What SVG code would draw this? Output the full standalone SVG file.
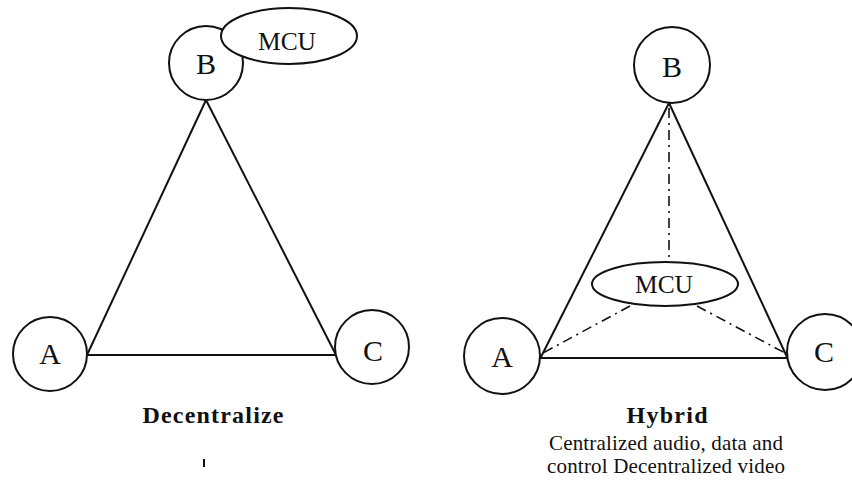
<svg xmlns="http://www.w3.org/2000/svg" width="852" height="481" viewBox="0 0 852 481">
  <style>
    .node { fill: #fff; stroke: #111; stroke-width: 2; }
    .link { stroke: #111; stroke-width: 2; fill: none; }
    .dash { stroke: #111; stroke-width: 1.6; fill: none; stroke-dasharray: 10 5 2 5; }
    .lbl { font-family: "Liberation Serif", "Times New Roman", serif; fill: #111; text-anchor: middle; }
    .letter { font-size: 30px; }
    .mcu { font-size: 26px; }
    .title { font-size: 24px; font-weight: bold; }
    .note { font-size: 21px; }
  </style>

  <!-- Decentralized topology -->
  <g id="connectors-left">
    <line class="link" x1="206" y1="100" x2="87" y2="355"/>
    <line class="link" x1="206" y1="100" x2="336" y2="355"/>
    <line class="link" x1="87" y1="355" x2="336" y2="355"/>
  </g>
  <g id="left-B">
    <circle class="node" cx="206" cy="63" r="37"/>
    <text class="lbl letter" x="206" y="74">B</text>
  </g>
  <g id="left-MCU">
    <ellipse class="node" cx="289" cy="36" rx="68" ry="28"/>
    <text class="lbl mcu" x="287" y="50" textLength="58" lengthAdjust="spacingAndGlyphs">MCU</text>
  </g>
  <g id="left-A">
    <circle class="node" cx="50" cy="354" r="37"/>
    <text class="lbl letter" x="50" y="364">A</text>
  </g>
  <g id="left-C">
    <circle class="node" cx="372" cy="347" r="37"/>
    <text class="lbl letter" x="373" y="361">C</text>
  </g>
  <text class="lbl title" x="213" y="423" textLength="141" lengthAdjust="spacing">Decentralize</text>
  <line x1="204" y1="459" x2="204" y2="467" stroke="#111" stroke-width="2"/>

  <!-- Hybrid topology -->
  <g id="connectors-right">
    <line class="link" x1="669" y1="103" x2="541" y2="357"/>
    <line class="link" x1="669" y1="103" x2="787" y2="357"/>
    <line class="link" x1="540" y1="358" x2="788" y2="358"/>
    <line class="dash" x1="669" y1="108" x2="669" y2="262"/>
    <line class="dash" x1="630" y1="306" x2="543" y2="353"/>
    <line class="dash" x1="697" y1="306" x2="785" y2="353"/>
  </g>
  <g id="right-B">
    <circle class="node" cx="672" cy="65" r="38"/>
    <text class="lbl letter" x="672" y="77">B</text>
  </g>
  <g id="right-MCU">
    <ellipse class="node" cx="665" cy="284" rx="73" ry="22"/>
    <text class="lbl mcu" x="664" y="293" textLength="58" lengthAdjust="spacingAndGlyphs">MCU</text>
  </g>
  <g id="right-A">
    <circle class="node" cx="502" cy="356" r="38"/>
    <text class="lbl letter" x="502" y="367">A</text>
  </g>
  <g id="right-C">
    <circle class="node" cx="825" cy="352" r="38"/>
    <text class="lbl letter" x="824" y="362">C</text>
  </g>
  <text class="lbl title" x="667" y="423" textLength="81" lengthAdjust="spacing">Hybrid</text>
  <text class="lbl note" x="666" y="450" textLength="234" lengthAdjust="spacing">Centralized audio, data and</text>
  <text class="lbl note" x="666" y="473" textLength="238" lengthAdjust="spacing">control Decentralized video</text>
</svg>
